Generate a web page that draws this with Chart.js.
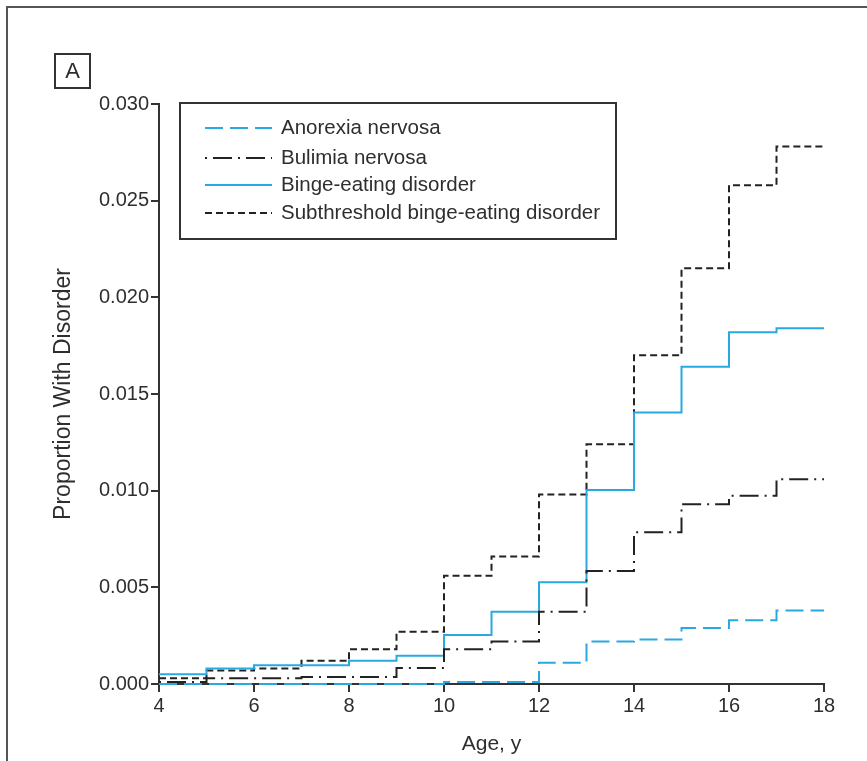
<!DOCTYPE html>
<html>
<head>
<meta charset="utf-8">
<script src="https://cdn.jsdelivr.net/npm/chart.js@4.4.1/dist/chart.umd.min.js"></script>
<style>
  html, body { margin: 0; padding: 0; background: #fff; }
  #wrap { width: 867px; height: 761px; }
</style>
</head>
<body>
<div id="wrap"><canvas id="myChart" width="867" height="761"></canvas></div>
<script>
// ages where each step starts; the last value is repeated at 18 to close the step
const ages = [4, 5, 6, 7, 8, 9, 10, 11, 12, 13, 14, 15, 16, 17, 18];
const anorexia = [0, 0, 0, 0, 0, 0, 0.0001, 0.0001, 0.0011, 0.0022, 0.0023, 0.0029, 0.0033, 0.0038, 0.0038];
const bulimia = [0.0001, 0.0003, 0.0003, 0.00036, 0.00036, 0.00083, 0.0018, 0.0022, 0.00374, 0.00585, 0.00785, 0.0093, 0.00974, 0.01059, 0.01059];
const bingeEating = [0.0005, 0.0008, 0.00097, 0.00097, 0.0012, 0.00146, 0.00253, 0.00374, 0.00526, 0.01004, 0.01404, 0.01641, 0.01819, 0.0184, 0.0184];
const subthreshold = [0.0003, 0.0007, 0.0008, 0.0012, 0.0018, 0.0027, 0.0056, 0.0066, 0.0098, 0.0124, 0.0170, 0.0215, 0.0258, 0.0278, 0.0278];

const yTicks = [0, 0.005, 0.010, 0.015, 0.020, 0.025, 0.030];

const BLUE = '#29a9e1';
const DARK = '#222222';
const TEXT = '#2e2e2e';
const FONT = "'Liberation Sans', Arial, sans-serif";

function points(values) {
    return ages.map((a, i) => ({ x: a, y: values[i] }));
}

// legend box, panel letter and frame drawn by hand
const decorations = {
    id: 'decorations',
    afterDraw(chart) {
        const ctx = chart.ctx;
        ctx.save();

        // outer frame (top and left visible)
        ctx.strokeStyle = '#555';
        ctx.lineWidth = 2;
        ctx.beginPath();
        ctx.moveTo(7, 761);
        ctx.lineTo(7, 7);
        ctx.lineTo(867, 7);
        ctx.stroke();

        // panel letter
        ctx.lineWidth = 2;
        ctx.strokeStyle = '#333';
        ctx.strokeRect(55, 54, 35, 34);
        ctx.fillStyle = TEXT;
        ctx.font = '22px ' + FONT;
        ctx.textAlign = 'center';
        ctx.textBaseline = 'middle';
        ctx.fillText('A', 72.5, 72);

        // legend
        ctx.fillStyle = '#fff';
        ctx.fillRect(180, 103, 436, 136);
        ctx.strokeStyle = '#333';
        ctx.strokeRect(180, 103, 436, 136);
        const rows = [128, 158, 185, 213];
        ctx.font = '20.5px ' + FONT;
        ctx.textAlign = 'left';
        chart.data.datasets.forEach((ds, i) => {
            ctx.strokeStyle = ds.borderColor;
            ctx.lineWidth = 2;
            ctx.setLineDash(ds.borderDash || []);
            ctx.beginPath();
            ctx.moveTo(205, rows[i]);
            ctx.lineTo(272, rows[i]);
            ctx.stroke();
            ctx.setLineDash([]);
            ctx.fillStyle = TEXT;
            ctx.fillText(ds.label, 281, rows[i]);
        });
        ctx.restore();
    }
};

const chart = new Chart(document.getElementById('myChart'), {
    type: 'line',
    data: {
        datasets: [
            {
                label: 'Anorexia nervosa',
                data: points(anorexia),
                borderColor: BLUE,
                borderDash: [18, 7],
                stepped: true,
                clip: 6,
            },
            {
                label: 'Bulimia nervosa',
                data: points(bulimia),
                borderColor: DARK,
                borderDash: [2, 6, 19, 6],
                stepped: true,
                clip: 6,
            },
            {
                label: 'Binge-eating disorder',
                data: points(bingeEating),
                borderColor: BLUE,
                stepped: true,
                clip: 6,
            },
            {
                label: 'Subthreshold binge-eating disorder',
                data: points(subthreshold),
                borderColor: DARK,
                borderDash: [7, 4],
                stepped: true,
                clip: 6,
            },
        ],
    },
    options: {
        responsive: false,
        animation: false,
        devicePixelRatio: 1,
        layout: { padding: { top: 104, right: 43, bottom: 0, left: 0 } },
        elements: {
            point: { radius: 0 },
            line: { borderWidth: 2, fill: false },
        },
        plugins: {
            legend: { display: false },
            tooltip: { enabled: false },
        },
        scales: {
            x: {
                type: 'linear',
                min: 4,
                max: 18,
                ticks: { stepSize: 2, color: TEXT, font: { family: FONT, size: 20 }, padding: 2, maxRotation: 0 },
                grid: { drawOnChartArea: false, tickLength: 8, color: '#333', lineWidth: 2 },
                border: { color: '#333', width: 2 },
                title: { display: true, text: 'Age, y', color: TEXT, font: { family: FONT, size: 21 }, padding: { top: 0, bottom: 4 } },
                afterFit: s => { s.height = 77; },
            },
            y: {
                min: 0,
                max: 0.03,
                afterBuildTicks: s => { s.ticks = yTicks.map(v => ({ value: v })); },
                ticks: { color: TEXT, font: { family: FONT, size: 20 }, padding: 2, callback: v => v.toFixed(3) },
                grid: { drawOnChartArea: false, tickLength: 8, color: '#333', lineWidth: 2 },
                border: { color: '#333', width: 2 },
                title: { display: true, text: 'Proportion With Disorder', color: TEXT, font: { family: FONT, size: 23 }, padding: { top: 50, bottom: 0 } },
                afterFit: s => { s.width = 159; },
            },
        },
    },
    plugins: [decorations],
});
</script>
</body>
</html>
